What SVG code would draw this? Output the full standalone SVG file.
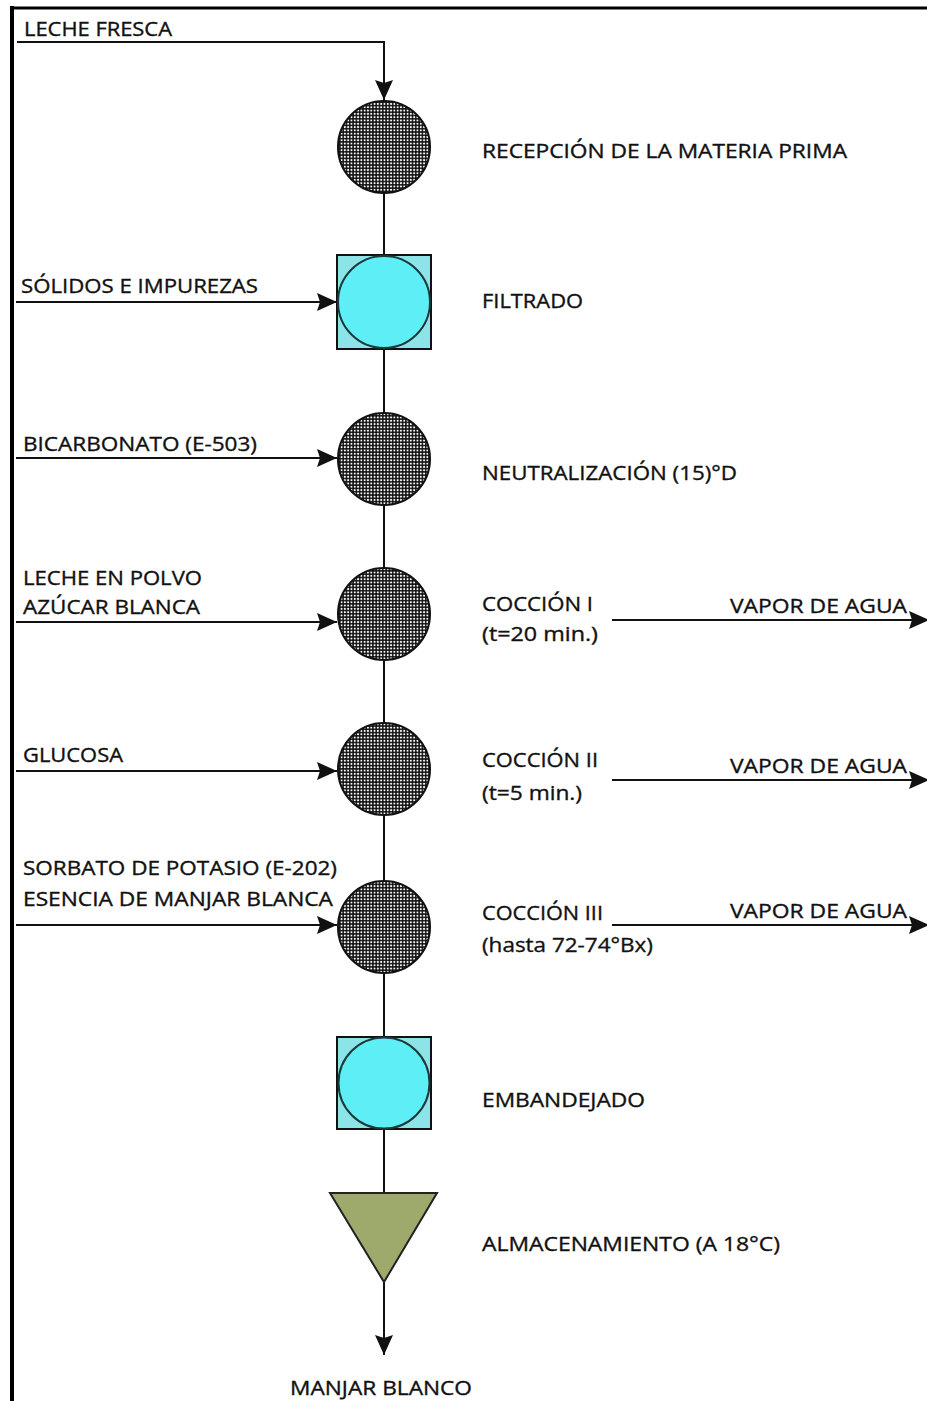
<svg xmlns="http://www.w3.org/2000/svg" width="927" height="1401" viewBox="0 0 927 1401">
  <defs>
    <pattern id="checks" patternUnits="userSpaceOnUse" width="3.3" height="3.3">
      <rect width="3.3" height="3.3" fill="#111"/>
      <rect x="0.75" y="0.75" width="1.8" height="1.8" fill="#fff"/>
    </pattern>
    <marker id="arrow" markerUnits="userSpaceOnUse" markerWidth="22" markerHeight="18" refX="20" refY="9" orient="auto">
      <path d="M0,0 L20,9 L0,18 L3,9 Z" fill="#111"/>
    </marker>
  </defs>
  <style>
    text { font-family: "Open Sans", "Liberation Sans", Arial, sans-serif; font-size: 20px; fill: #111; stroke: #111; stroke-width: 0.35; }
    .ln { stroke: #111; stroke-width: 2; fill: none; }
    .chk { fill: url(#checks); stroke: #111; stroke-width: 2; }
    .sq { fill: #8CE3E8; stroke: #111; stroke-width: 2; }
    .cy { fill: #5EEEF5; stroke: #1a3a3a; stroke-width: 2; }
    .tri { fill: #9EAA6C; stroke: #222; stroke-width: 2; }
  </style>
  <rect width="927" height="1401" fill="#fff"/>
  <g id="frame">
    <line x1="12" y1="6" x2="12" y2="1401" stroke="#000" stroke-width="4"/>
    <line x1="10" y1="8" x2="927" y2="8" stroke="#000" stroke-width="3"/>
  </g>
  <g id="connectors">
    <line class="ln" x1="384" y1="147" x2="384" y2="1193"/>
    <path class="ln" d="M17,42 H384 V100" marker-end="url(#arrow)"/>
    <line class="ln" x1="16" y1="302" x2="337" y2="302" marker-end="url(#arrow)"/>
    <line class="ln" x1="16" y1="458" x2="337" y2="458" marker-end="url(#arrow)"/>
    <line class="ln" x1="16" y1="622" x2="337" y2="622" marker-end="url(#arrow)"/>
    <line class="ln" x1="16" y1="771" x2="337" y2="771" marker-end="url(#arrow)"/>
    <line class="ln" x1="16" y1="925" x2="337" y2="925" marker-end="url(#arrow)"/>
    <line class="ln" x1="612" y1="620" x2="929" y2="620" marker-end="url(#arrow)"/>
    <line class="ln" x1="612" y1="780" x2="929" y2="780" marker-end="url(#arrow)"/>
    <line class="ln" x1="612" y1="925" x2="929" y2="925" marker-end="url(#arrow)"/>
    <line class="ln" x1="384" y1="1282" x2="384" y2="1355" marker-end="url(#arrow)"/>
  </g>
  <g id="in-labels">
    <text x="24" y="36" textLength="148" lengthAdjust="spacingAndGlyphs">LECHE FRESCA</text>
    <text x="21" y="293" textLength="237" lengthAdjust="spacingAndGlyphs">SÓLIDOS E IMPUREZAS</text>
    <text x="23" y="451" textLength="234" lengthAdjust="spacingAndGlyphs">BICARBONATO (E-503)</text>
    <text x="23" y="585" textLength="179" lengthAdjust="spacingAndGlyphs">LECHE EN POLVO</text>
    <text x="23" y="614" textLength="177" lengthAdjust="spacingAndGlyphs">AZÚCAR BLANCA</text>
    <text x="23" y="762" textLength="100" lengthAdjust="spacingAndGlyphs">GLUCOSA</text>
    <text x="23" y="875" textLength="314" lengthAdjust="spacingAndGlyphs">SORBATO DE POTASIO (E-202)</text>
    <text x="23" y="906" textLength="310" lengthAdjust="spacingAndGlyphs">ESENCIA DE MANJAR BLANCA</text>
  </g>
  <g id="n-recepcion">
    <circle class="chk" cx="384" cy="147" r="46"/>
    <text x="482" y="158" textLength="365" lengthAdjust="spacingAndGlyphs">RECEPCIÓN DE LA MATERIA PRIMA</text>
  </g>
  <g id="n-filtrado">
    <rect class="sq" x="337" y="255" width="94" height="94"/>
    <circle class="cy" cx="384" cy="302" r="46"/>
    <text x="482" y="308" textLength="101" lengthAdjust="spacingAndGlyphs">FILTRADO</text>
  </g>
  <g id="n-neutralizacion">
    <circle class="chk" cx="384" cy="459" r="46"/>
    <text x="482" y="480" textLength="255" lengthAdjust="spacingAndGlyphs">NEUTRALIZACIÓN (15)°D</text>
  </g>
  <g id="n-coccion1">
    <circle class="chk" cx="384" cy="614" r="46"/>
    <text x="482" y="611" textLength="111" lengthAdjust="spacingAndGlyphs">COCCIÓN I</text>
    <text x="482" y="641" textLength="116" lengthAdjust="spacingAndGlyphs">(t=20 min.)</text>
    <text x="730" y="613" textLength="177" lengthAdjust="spacingAndGlyphs">VAPOR DE AGUA</text>
  </g>
  <g id="n-coccion2">
    <circle class="chk" cx="384" cy="769" r="46"/>
    <text x="482" y="767" textLength="116" lengthAdjust="spacingAndGlyphs">COCCIÓN II</text>
    <text x="482" y="800" textLength="100" lengthAdjust="spacingAndGlyphs">(t=5 min.)</text>
    <text x="730" y="773" textLength="177" lengthAdjust="spacingAndGlyphs">VAPOR DE AGUA</text>
  </g>
  <g id="n-coccion3">
    <circle class="chk" cx="384" cy="927" r="46"/>
    <text x="482" y="920" textLength="121" lengthAdjust="spacingAndGlyphs">COCCIÓN III</text>
    <text x="482" y="952" textLength="171" lengthAdjust="spacingAndGlyphs">(hasta 72-74°Bx)</text>
    <text x="730" y="918" textLength="177" lengthAdjust="spacingAndGlyphs">VAPOR DE AGUA</text>
  </g>
  <g id="n-embandejado">
    <rect class="sq" x="337" y="1037" width="94" height="92"/>
    <circle class="cy" cx="384" cy="1083" r="45.5"/>
    <text x="482" y="1107" textLength="163" lengthAdjust="spacingAndGlyphs">EMBANDEJADO</text>
  </g>
  <g id="n-almacenamiento">
    <polygon class="tri" points="330,1193 437,1193 384,1282"/>
    <text x="482" y="1251" textLength="298" lengthAdjust="spacingAndGlyphs">ALMACENAMIENTO (A 18°C)</text>
  </g>
  <g id="out-label">
    <text x="290" y="1395" textLength="182" lengthAdjust="spacingAndGlyphs">MANJAR BLANCO</text>
  </g>
</svg>
